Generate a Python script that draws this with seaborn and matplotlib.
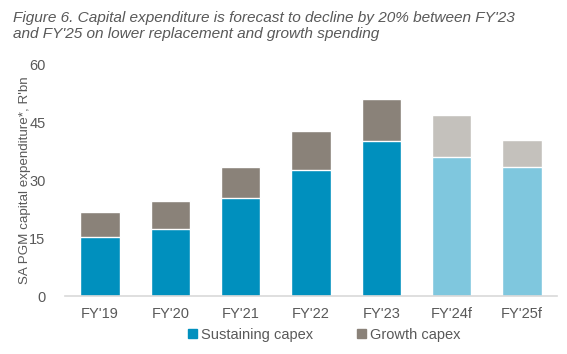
import matplotlib
matplotlib.use("Agg")
import matplotlib.pyplot as plt
import seaborn as sns
import pandas as pd
from matplotlib.patches import Patch

categories = ["FY'19", "FY'20", "FY'21", "FY'22", "FY'23", "FY'24f", "FY'25f"]
sustaining = [15.3, 17.4, 25.4, 32.8, 40.3, 36.0, 33.5]
growth = [6.6, 7.2, 8.1, 10.1, 10.8, 10.9, 7.1]
yticks = [0, 15, 30, 45, 60]

sus_cols = ["#0090BE"] * 5 + ["#7FC7DE"] * 2
gro_cols = ["#8A8279"] * 5 + ["#C4C1BC"] * 2

sns.set_theme(style="white")
plt.rcParams['font.family'] = ['Liberation Sans', 'DejaVu Sans']

df = pd.DataFrame({"cat": categories, "sus": sustaining,
                   "total": [s + g for s, g in zip(sustaining, growth)]})

fig = plt.figure(figsize=(5.67, 3.54), dpi=100)
ax = fig.add_axes([65/567, 1-296/354, (557-65)/567, (296-65)/354])

sns.barplot(data=df, x="cat", y="total", hue="cat", palette=gro_cols,
            legend=False, width=0.56, ax=ax, saturation=1)
sns.barplot(data=df, x="cat", y="sus", hue="cat", palette=sus_cols,
            legend=False, width=0.56, ax=ax, saturation=1)

ax.set_ylim(0, 60)
ax.set_xlim(-0.5, 6.5)
ax.set_yticks(yticks)
ax.set_yticklabels([str(t) for t in yticks])
ax.set_xlabel("")
ax.set_ylabel("SA PGM capital expenditure*, R'bn", color="#595959", fontsize=9.6, labelpad=-1)
ax.tick_params(axis="both", colors="#595959", labelsize=10.5, length=0)
ax.tick_params(axis="y", pad=14)
ax.tick_params(axis="x", pad=8)
for s in ["top", "right", "left"]:
    ax.spines[s].set_visible(False)
ax.spines["bottom"].set_color("#D9D9D9")
ax.spines["bottom"].set_linewidth(1.2)

fig.text(13/567, 1-11/354,
         "Figure 6. Capital expenditure is forecast to decline by 20% between FY'23\nand FY'25 on lower replacement and growth spending",
         fontsize=11.1, style="italic", color="#595959", va="top", linespacing=1.2)

handles = [Patch(color="#0090BE", label="Sustaining capex"),
           Patch(color="#8A8279", label="Growth capex")]
fig.legend(handles=handles, loc="center", bbox_to_anchor=(0.572, 1-335/354), ncol=2,
           frameon=False, fontsize=10.5, handlelength=0.6, handleheight=0.6,
           handletextpad=0.3, columnspacing=3.0, labelcolor="#595959")

fig.savefig("out.png", dpi=100)
